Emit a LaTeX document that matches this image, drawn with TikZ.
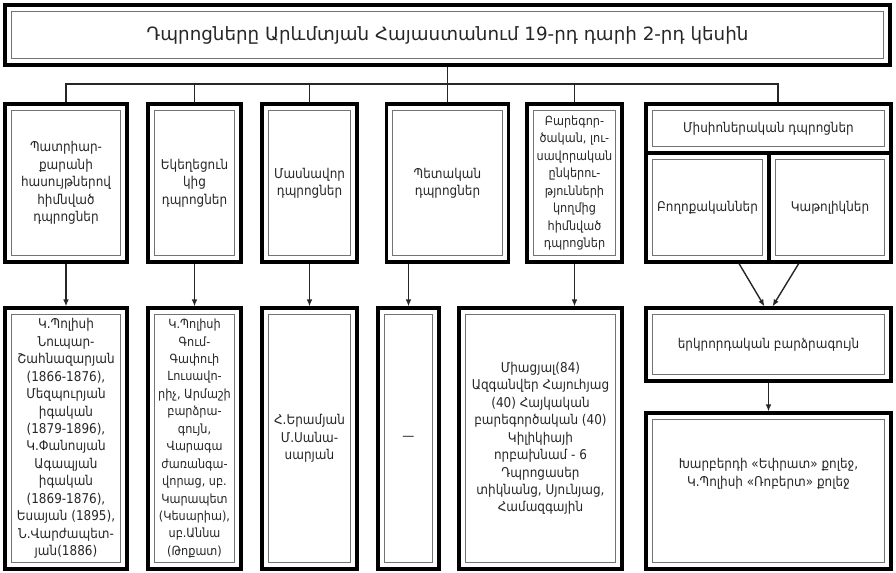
\documentclass[tikz,border=0pt]{standalone}
\usepackage{fontspec}
\setmainfont{DejaVu Sans}[FakeStretch=0.89]
\newfontfamily\titlefont{DejaVu Sans}
\usetikzlibrary{calc}
\usetikzlibrary{arrows.meta}
\newdimen\pxu
\pxu=0.025cm
\tikzset{
    frame/.style = {draw=black, line width=2.2pt, inner sep=1pt, align=center, text=black!85,
        font=\fontsize{9.6}{12.4}\selectfont,
        path picture={\draw[black!55, line width=0.8pt]
            ([shift={(4.5pt,-4.5pt)}]path picture bounding box.north west) rectangle
            ([shift={(-4.5pt,4.5pt)}]path picture bounding box.south east);}},
    narrow/.style = {font=\fontsize{9}{12.4}\selectfont},
    size/.style 2 args = {minimum width=#1\pxu, minimum height=#2\pxu},
    wire/.style = {line width=1pt, black!85},
    arr/.style = {-{Latex[length=5pt,width=4pt]}, line width=1pt, black!85}
}
\begin{document}
\begin{tikzpicture}[x=0.025cm, y=-0.025cm]
\useasboundingbox (0,0) rectangle (896,573);
%
\node[frame, size={885}{60}, font=\titlefont\fontsize{13}{15}\selectfont] at (447.5,35) (title)
    {Դպրոցները Արևմտյան Հայաստանում 19-րդ դարի 2-րդ կեսին};
%
\node[frame, size={122}{158}] at (66,183) (t1) {Պատրիար-\\քարանի\\հասույթներով\\հիմնված\\դպրոցներ};
\node[frame, size={93}{158}] at (194.5,183) (t2) {Եկեղեցուն\\կից\\դպրոցներ};
\node[frame, size={95}{158}] at (309.5,183) (t3) {Մասնավոր\\դպրոցներ};
\node[frame, size={122}{158}] at (447.5,183) (t4) {Պետական\\դպրոցներ};
\node[frame, narrow, size={95}{158}] at (574.5,183) (t5) {Բարեգոր-\\ծական, լու-\\սավորական\\ընկերու-\\թյունների\\կողմից\\հիմնված\\դպրոցներ};
\node[frame, size={245}{49}] at (768.5,128.5) (mis) {Միսիոներական դպրոցներ};
\node[frame, size={123}{109}] at (707.5,207.5) (prot) {Բողոքականներ};
\node[frame, size={122}{109}] at (830,207.5) (cath) {Կաթոլիկներ};
%
\node[frame, size={122}{261}] at (66,438.5) (b1) {Կ.Պոլիսի\\Նուպար-\\Շահնազարյան\\(1866-1876),\\Մեզպուրյան\\իգական\\(1879-1896),\\Կ.Փանոսյան\\Ագապյան\\իգական\\(1869-1876),\\Եսայան (1895),\\Ն.Վարժապետ-\\յան(1886)};
\node[frame, narrow, size={93}{261}] at (194.5,438.5) (b2) {Կ.Պոլիսի\\Գում-\\Գափուի\\Լուսավո-\\րիչ, Արմաշի\\բարձրա-\\գույն,\\Վարագա\\ժառանգա-\\վորաց, սբ.\\Կարապետ\\(Կեսարիա),\\սբ.Աննա\\(Թոքատ)};
\node[frame, size={95}{261}] at (309.5,438.5) (b3) {Հ.Երամյան\\Մ.Սանա-\\սարյան};
\node[frame, size={61}{261}] at (408.5,438.5) (b4) {—};
\node[frame, size={163}{261}] at (540.5,438.5) (b5) {Միացյալ(84)\\Ազգանվեր Հայուհյաց\\(40) Հայկական\\բարեգործական (40)\\Կիլիկիայի\\որբախնամ - 6\\Դպրոցասեր\\տիկնանց, Սյունյաց,\\Համազգային};
\node[frame, size={245}{73}] at (768.5,344.5) (sec) {երկրորդական բարձրագույն};
\node[frame, size={245}{156}] at (768.5,491) (coll) {Խարբերդի «Եփրատ» քոլեջ,\\Կ.Պոլիսի «Ռոբերտ» քոլեջ\\[14pt]};
%
\coordinate (bus) at (447.5,84);
\draw[wire] (title.south) -- (bus);
\foreach \n in {t1,t2,t3,t4,t5}
    \draw[wire] (\n.north) |- (bus);
\draw[wire] ([xshift=9.5\pxu]mis.north) |- (bus);
%
\draw[arr] (t1) -- (b1);
\draw[arr] (t2) -- (b2);
\draw[arr] (t3) -- (b3);
\draw[arr] (b4.north |- t4.south) -- (b4.north);
\draw[arr] (t5.south) -- (t5.south |- b5.north);
\draw[arr] ($(prot.south)!0.5!(prot.south east)$) -- ($(sec.north)+(-4,0)$);
\draw[arr] ($(cath.south)!0.5!(cath.south west)$) -- ($(sec.north)+(4,0)$);
\draw[arr] (sec) -- (coll);

\end{tikzpicture}
\end{document}
